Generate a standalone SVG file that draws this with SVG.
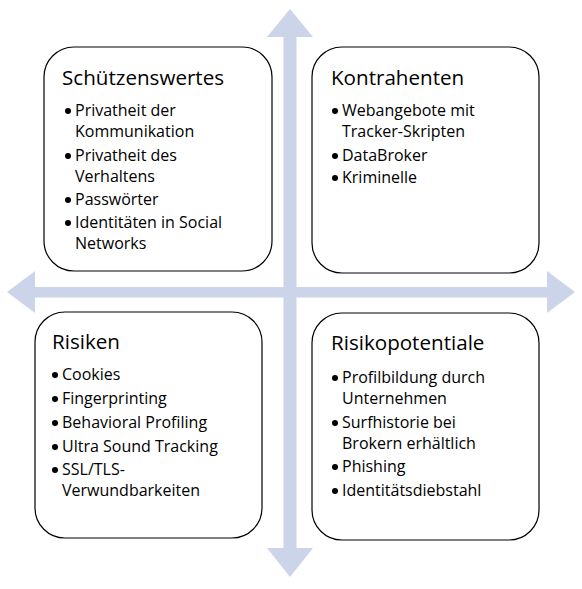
<svg xmlns="http://www.w3.org/2000/svg" width="582" height="589" viewBox="0 0 582 589">
<style>
.arrow{fill:#CCD4EA;stroke:none}
.box{fill:#FFFFFF;stroke:#000000;stroke-width:1.2}
.title{font-family:"Open Sans","Noto Sans",sans-serif;font-size:20.6px;fill:#000}
.item{font-family:"Open Sans","Noto Sans",sans-serif;font-size:16px;fill:#000}
.dot{fill:#000}
</style>
<rect width="582" height="589" fill="#FFFFFF"/>
<g id="connectors">
<polygon class="arrow" points="290,9 313,37 296.5,37 296.5,548 313,548 290,577 267,548 283.5,548 283.5,37 267,37"/>
<polygon class="arrow" points="7,292 35,271 35,287 547,287 547,271 575,292 547,313 547,297.5 35,297.5 35,313"/>
</g>
<g id="schuetzenswertes">
<rect class="box" x="44" y="47" width="228" height="224" rx="30"/>
<text class="title" x="62" y="85">Schützenswertes</text>
<g class="dot">
<circle cx="68" cy="111" r="3"/><circle cx="68" cy="156" r="3"/><circle cx="68" cy="200" r="3"/><circle cx="68" cy="223" r="3"/>
</g>
<g class="item">
<text x="75" y="116">Privatheit der</text>
<text x="75" y="137">Kommunikation</text>
<text x="75" y="161">Privatheit des</text>
<text x="75" y="182">Verhaltens</text>
<text x="75" y="205">Passwörter</text>
<text x="75" y="228">Identitäten in Social</text>
<text x="75" y="249">Networks</text>
</g>
</g>
<g id="kontrahenten">
<rect class="box" x="312" y="47" width="227" height="226" rx="30"/>
<text class="title" x="331" y="85">Kontrahenten</text>
<g class="dot">
<circle cx="335" cy="111" r="3"/><circle cx="335" cy="156" r="3"/><circle cx="335" cy="178" r="3"/>
</g>
<g class="item">
<text x="342" y="116">Webangebote mit</text>
<text x="342" y="137">Tracker-Skripten</text>
<text x="342" y="161">DataBroker</text>
<text x="342" y="183">Kriminelle</text>
</g>
</g>
<g id="risiken">
<rect class="box" x="35" y="312" width="227" height="226" rx="30"/>
<text class="title" x="52" y="349">Risiken</text>
<g class="dot">
<circle cx="55" cy="375" r="3"/><circle cx="55" cy="399" r="3"/><circle cx="55" cy="423" r="3"/><circle cx="55" cy="447" r="3"/><circle cx="55" cy="470" r="3"/>
</g>
<g class="item">
<text x="62" y="380">Cookies</text>
<text x="62" y="404">Fingerprinting</text>
<text x="62" y="428">Behavioral Profiling</text>
<text x="62" y="452">Ultra Sound Tracking</text>
<text x="62" y="475">SSL/TLS-</text>
<text x="62" y="496">Verwundbarkeiten</text>
</g>
</g>
<g id="risikopotentiale">
<rect class="box" x="312" y="313" width="227" height="227" rx="30"/>
<text class="title" x="331" y="350">Risikopotentiale</text>
<g class="dot">
<circle cx="335" cy="378" r="3"/><circle cx="335" cy="423" r="3"/><circle cx="335" cy="467" r="3"/><circle cx="335" cy="491" r="3"/>
</g>
<g class="item">
<text x="342" y="383">Profilbildung durch</text>
<text x="342" y="404">Unternehmen</text>
<text x="342" y="428">Surfhistorie bei</text>
<text x="342" y="449">Brokern erhältlich</text>
<text x="342" y="472">Phishing</text>
<text x="342" y="496">Identitätsdiebstahl</text>
</g>
</g>
</svg>
